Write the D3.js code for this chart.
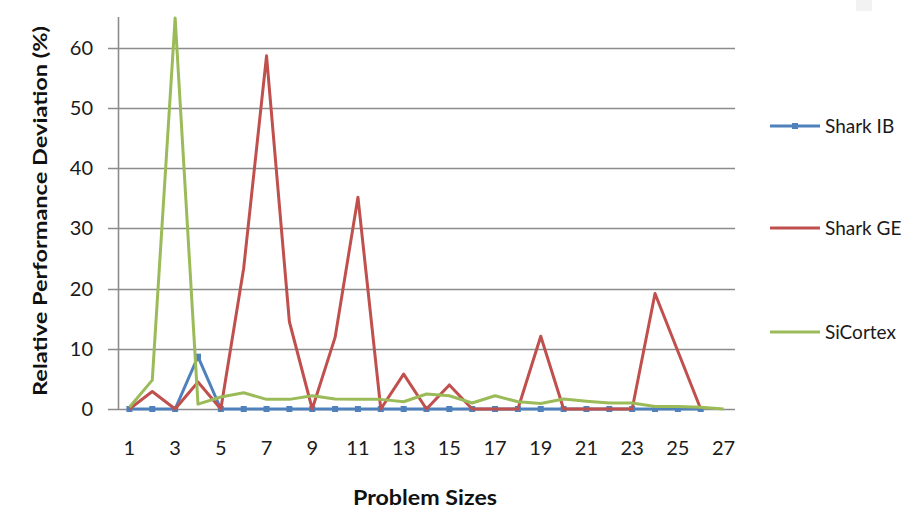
<!DOCTYPE html>
<html>
<head>
<meta charset="utf-8">
<script src="https://cdn.jsdelivr.net/npm/d3@7"></script>
<style>
  html, body { margin: 0; padding: 0; background: #fff; }
  svg { display: block; }
  text { font-family: Lato, "Open Sans", sans-serif; }
</style>
</head>
<body>
<svg id="chart" width="924" height="519"></svg>
<script>
// ---- data ----
const categories = d3.range(1, 28); // problem sizes 1..27
const xTickLabels = [1, 3, 5, 7, 9, 11, 13, 15, 17, 19, 21, 23, 25, 27];
const yTicks = [0, 10, 20, 30, 40, 50, 60];
const sharkIB = [0, 0, 0, 8.7, 0, 0, 0, 0, 0, 0, 0, 0, 0, 0, 0, 0, 0, 0, 0, 0, 0, 0, 0, 0, 0, 0];
const sharkGE = [0, 2.9, 0, 4.5, 0, 23.4, 58.7, 14.5, 0, 11.9, 35.2, 0, 5.8, 0, 4.0, 0, 0, 0, 12.1, 0, 0, 0, 0, 19.2, 9.6, 0];
const siCortex = [0.3, 4.8, 65, 0.8, 2.0, 2.7, 1.6, 1.6, 2.2, 1.65, 1.6, 1.6, 1.2, 2.5, 2.2, 1.0, 2.2, 1.2, 0.9, 1.65, 1.3, 1.0, 1.0, 0.4, 0.4, 0.3, 0];
const seriesNames = ["Shark IB", "Shark GE", "SiCortex"];
const seriesColors = ["#4F81BD", "#C0504D", "#9BBB59"];

// ---- layout ----
const svg = d3.select("#chart");
const plotL = 118, plotR = 735, plotT = 17.9, plotB = 409;

const x = d3.scaleBand().domain(categories).range([plotL, plotR]);
const xc = d => x(d) + x.bandwidth() / 2;
const y = d3.scaleLinear().domain([0, 65]).range([plotB, plotT]);

// faint rect top-right
svg.append("rect").attr("x", 856).attr("y", 0).attr("width", 16).attr("height", 11).attr("fill", "#f2f2f2");

// gridlines
svg.append("g").selectAll("line").data(yTicks).join("line")
  .attr("x1", plotL - 10).attr("x2", plotR)
  .attr("y1", d => Math.round(y(d)) + 0.5).attr("y2", d => Math.round(y(d)) + 0.5)
  .attr("stroke", "#8c8c8c").attr("stroke-width", 1.6);

// y axis line
svg.append("line").attr("x1", plotL + 0.5).attr("x2", plotL + 0.5)
  .attr("y1", plotT - 1).attr("y2", plotB)
  .attr("stroke", "#8c8c8c").attr("stroke-width", 1.6);

// y tick labels
svg.append("g").selectAll("text").data(yTicks).join("text")
  .attr("x", 93).attr("y", d => y(d))
  .attr("dy", "0.35em").attr("text-anchor", "end")
  .attr("font-size", 20).attr("fill", "#1a1a1a")
  .text(d => d);

// x tick labels
svg.append("g").selectAll("text").data(xTickLabels).join("text")
  .attr("x", d => xc(d)).attr("y", 448)
  .attr("dy", "0.35em").attr("text-anchor", "middle")
  .attr("font-size", 20).attr("fill", "#1a1a1a")
  .text(d => d);

// axis titles
svg.append("text")
  .attr("transform", "translate(47,211) rotate(-90)")
  .attr("text-anchor", "middle")
  .attr("font-size", 19).attr("font-weight", "bold").attr("fill", "#111")
  .attr("textLength", 370).attr("lengthAdjust", "spacingAndGlyphs")
  .text("Relative Performance Deviation (%)");

svg.append("text")
  .attr("x", 425).attr("y", 505)
  .attr("text-anchor", "middle")
  .attr("font-size", 21).attr("font-weight", "bold").attr("fill", "#111")
  .attr("textLength", 144).attr("lengthAdjust", "spacingAndGlyphs")
  .text("Problem Sizes");

// lines
const allSeries = [sharkIB, sharkGE, siCortex];
const line = d3.line().x((d, i) => xc(categories[i])).y(d => y(d));

allSeries.forEach((s, k) => {
  const g = svg.append("g");
  g.append("path").datum(s)
    .attr("d", line)
    .attr("fill", "none")
    .attr("stroke", seriesColors[k])
    .attr("stroke-width", 3)
    .attr("stroke-linejoin", "round");
  if (k === 0) {
    g.selectAll("rect").data(s).join("rect")
      .attr("x", (d, i) => xc(categories[i]) - 3)
      .attr("y", d => y(d) - 3)
      .attr("width", 6).attr("height", 6)
      .attr("fill", seriesColors[k]);
  }
});

// legend
const legendY = [126, 228, 332];
const lg = svg.append("g");
seriesNames.forEach((name, k) => {
  lg.append("line")
    .attr("x1", 770).attr("x2", 820)
    .attr("y1", legendY[k]).attr("y2", legendY[k])
    .attr("stroke", seriesColors[k]).attr("stroke-width", 3);
  if (k === 0) {
    lg.append("rect").attr("x", 792).attr("y", legendY[k] - 3)
      .attr("width", 6).attr("height", 6).attr("fill", seriesColors[k]);
  }
  lg.append("text")
    .attr("x", 825).attr("y", legendY[k])
    .attr("dy", "0.35em")
    .attr("font-size", 19).attr("fill", "#1a1a1a")
    .text(name);
});
</script>
</body>
</html>
